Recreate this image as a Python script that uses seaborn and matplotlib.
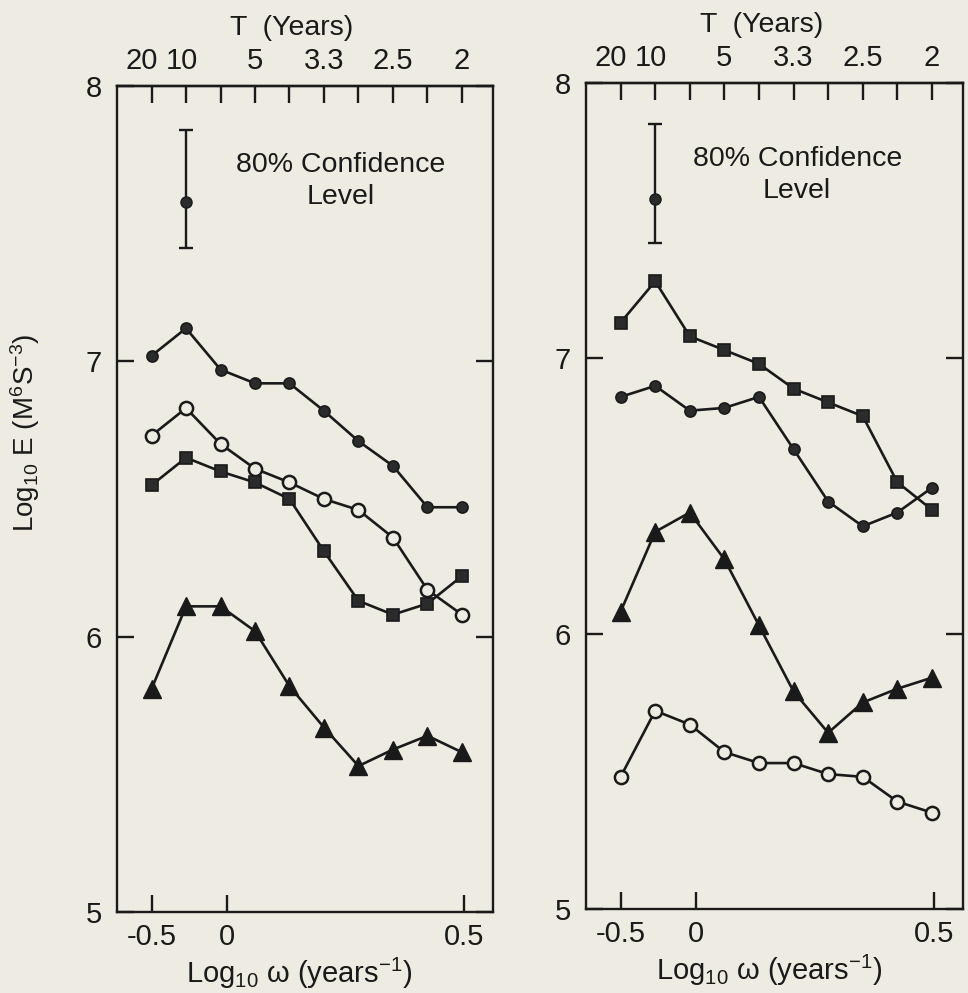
import numpy as np
import matplotlib.pyplot as plt
import matplotlib.transforms as mtransforms
import seaborn as sns

# frequency (cycles / year) of each spectral estimate, one per top tick
freq = [0.05, 0.10, 0.15, 0.20, 0.25, 0.30, 0.35, 0.40, 0.45, 0.50]

# left panel: log10 E
left_dot = [7.02, 7.12, 6.97, 6.92, 6.92, 6.82, 6.71, 6.62, 6.47, 6.47]
left_open = [6.73, 6.83, 6.70, 6.61, 6.56, 6.50, 6.46, 6.36, 6.17, 6.08]
left_square = [6.55, 6.65, 6.60, 6.56, 6.50, 6.31, 6.13, 6.08, 6.12, 6.22]
left_tri = [5.81, 6.11, 6.11, 6.02, 5.82, 5.67, 5.53, 5.59, 5.64, 5.58]

# right panel: log10 E
right_square = [7.13, 7.28, 7.08, 7.03, 6.98, 6.89, 6.84, 6.79, 6.55, 6.45]
right_dot = [6.86, 6.90, 6.81, 6.82, 6.86, 6.67, 6.48, 6.39, 6.44, 6.53]
right_tri = [6.08, 6.37, 6.44, 6.27, 6.03, 5.79, 5.64, 5.75, 5.80, 5.84]
right_open = [5.48, 5.72, 5.67, 5.57, 5.53, 5.53, 5.49, 5.48, 5.39, 5.35]

# 80% confidence bar: x, centre, low, high
conf_left = [0.10, 7.58, 7.41, 7.84]
conf_right = [0.10, 7.58, 7.42, 7.85]

# axis labels / ticks
period_ticks = [0.05, 0.10, 0.15, 0.20, 0.25, 0.30, 0.35, 0.40, 0.45, 0.50]
period_labels = ["20", "10", "", "5", "", "3.3", "", "2.5", "", "2"]
log_omega_labels = [-0.5, 0, 0.5]
y_ticks = [5, 6, 7, 8]

BG = "#eeebe2"
INK = "#1a1a1a"
DARK = "#2b2b2b"

sns.set_theme(style="ticks")
plt.rcParams["font.family"] = ["Liberation Sans", "DejaVu Sans"]
plt.rcParams["mathtext.fontset"] = "custom"
plt.rcParams["mathtext.rm"] = "Liberation Sans"
plt.rcParams["mathtext.it"] = "Liberation Sans:italic"
plt.rcParams["mathtext.bf"] = "Liberation Sans:bold"
plt.rcParams["axes.linewidth"] = 1.7
plt.rcParams["text.color"] = INK
plt.rcParams["axes.labelcolor"] = INK
plt.rcParams["xtick.color"] = INK
plt.rcParams["ytick.color"] = INK

fig = plt.figure(figsize=(9.68, 9.93), dpi=100, facecolor=BG)
ax_l = fig.add_axes([0.1209, 0.0816, 0.3884, 0.8318])
ax_r = fig.add_axes([0.6054, 0.0846, 0.3895, 0.8318])

styles = {
    "dot": dict(marker="o", markersize=8, markerfacecolor=DARK, mec=INK, mew=1.2),
    "open": dict(marker="o", markersize=9.5, markerfacecolor=BG, mec=INK, mew=1.8),
    "square": dict(marker="s", markersize=9, markerfacecolor=DARK, mec=INK, mew=1.2),
    "tri": dict(marker="^", markersize=12.5, markerfacecolor=INK, mec=INK, mew=1.0),
}


def draw_panel(ax, series, conf, text_x, text_y):
    ax.set_facecolor(BG)
    for vals, kind in series:
        sns.lineplot(x=freq, y=vals, ax=ax, color=INK, linewidth=1.9,
                     legend=False, **styles[kind])

    cx, cy, lo, hi = conf
    ax.errorbar([cx], [cy], yerr=[[cy - lo], [hi - cy]], fmt="o", color=INK,
                markersize=8, markerfacecolor=DARK, elinewidth=1.7,
                capsize=5, capthick=1.7)
    ax.text(text_x, text_y, "80% Confidence\nLevel", transform=ax.transAxes,
            ha="center", va="center", fontsize=20.5, linespacing=1.3)

    ax.set_xlim(0.0, 0.545)
    ax.set_ylim(5, 8)
    ax.set_xlabel("")
    ax.set_ylabel("")

    # bottom axis: log10 of angular frequency
    omega_pos = [10 ** v / (2 * np.pi) for v in log_omega_labels]
    ax.set_xticks(omega_pos, labels=["-0.5", "0", "0.5"])
    ax.set_yticks(y_ticks, labels=[str(v) for v in y_ticks])
    ax.tick_params(axis="x", direction="in", length=12, width=1.7,
                   top=False, bottom=True, labelsize=21, pad=8)
    ax.tick_params(axis="y", direction="in", length=12, width=1.7,
                   left=True, right=True, labelsize=21, pad=11)
    for s in ax.spines.values():
        s.set_visible(True)
        s.set_linewidth(1.7)
        s.set_color(INK)

    # top axis: period in years
    sec = ax.secondary_xaxis("top")
    sec.set_xticks(period_ticks, labels=period_labels)
    sec.tick_params(direction="in", length=12, width=1.7, labelsize=21, pad=8)
    sec.spines["top"].set_linewidth(1.7)
    # the "20" and "10" labels sit a little left of their ticks in the original
    for lab, dx in zip(sec.get_xticklabels()[:2], [-7, -3]):
        shift = mtransforms.ScaledTranslation(dx / 72, 0, fig.dpi_scale_trans)
        lab.set_transform(lab.get_transform() + shift)

    ax.text(0.465, 1.07, "T  (Years)", transform=ax.transAxes,
            ha="center", va="center", fontsize=20.5)
    ax.text(0.485, -0.074, r"Log$_{10}$ ω (years$^{-1}$)", transform=ax.transAxes,
            ha="center", va="center", fontsize=21)


draw_panel(ax_l, [(left_dot, "dot"), (left_open, "open"),
                  (left_square, "square"), (left_tri, "tri")],
           conf_left, 0.595, 0.885)
draw_panel(ax_r, [(right_square, "square"), (right_dot, "dot"),
                  (right_tri, "tri"), (right_open, "open")],
           conf_right, 0.56, 0.889)

ax_l.text(-0.245, 0.58, r"Log$_{10}$ E (M$^6$S$^{-3}$)", transform=ax_l.transAxes,
          ha="center", va="center", rotation=90, fontsize=20)

fig.savefig("out.png", dpi=100, facecolor=BG)
